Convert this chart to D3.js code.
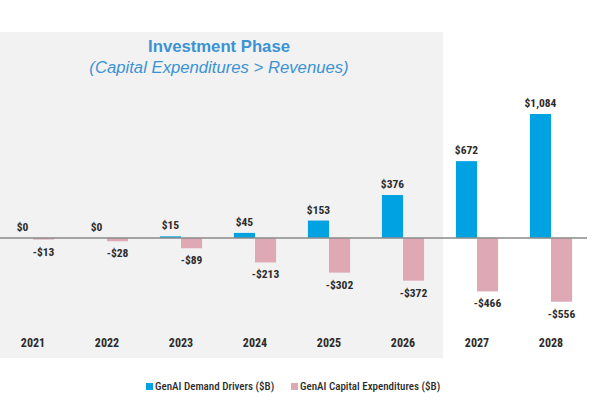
<!DOCTYPE html>
<html>
<head>
<meta charset="utf-8">
<script src="https://cdn.jsdelivr.net/npm/d3@7"></script>
<style>
  body { margin: 0; background: #fff; }
  text { font-family: "Liberation Sans Narrow", "Roboto Condensed", "DejaVu Sans Condensed", sans-serif; }
</style>
</head>
<body>
<div id="chart"></div>
<script>
const width = 600;
const height = 408;

// Data
const years = ["2021", "2022", "2023", "2024", "2025", "2026", "2027", "2028"];
const demand = [0, 0, 15, 45, 153, 376, 672, 1084];
const capex = [-13, -28, -89, -213, -302, -372, -466, -556];
const seriesNames = ["GenAI Demand Drivers ($B)", "GenAI Capital Expenditures ($B)"];
const investmentYears = ["2021", "2022", "2023", "2024", "2025", "2026"];

const blue = "#00a2e1";
const pink = "#dea9b5";
const labelColor = "#2b2b2b";

const svg = d3.select("#chart")
    .append("svg")
    .attr("width", width)
    .attr("height", height);

// Scales
const x = d3.scaleBand()
    .domain(years)
    .range([-4, 588])
    .paddingInner(0.43)
    .paddingOuter(0.215);

const xSub = d3.scaleBand()
    .domain(["demand", "capex"])
    .range([0, x.bandwidth()]);

const y = d3.scaleLinear()
    .domain([-556, 1084])
    .range([301.7, 114]);

const fmt = v => (v < 0 ? "-$" : "$") + d3.format(",")(Math.abs(v));

// Investment phase background
const lastInv = investmentYears[investmentYears.length - 1];
const bgRight = x(lastInv) + x.bandwidth() + x.step() * x.paddingInner() / 2 + 3;
svg.append("rect")
    .attr("x", 0)
    .attr("y", 32)
    .attr("width", bgRight)
    .attr("height", 326)
    .attr("fill", "#f2f2f2");

svg.append("text")
    .attr("x", 219)
    .attr("y", 52)
    .attr("text-anchor", "middle")
    .style("font-family", "'Liberation Sans', Arial, sans-serif")
    .style("font-size", "16.7px")
    .style("font-weight", "bold")
    .attr("fill", "#3b93d4")
    .text("Investment Phase");

svg.append("text")
    .attr("x", 219)
    .attr("y", 73)
    .attr("text-anchor", "middle")
    .style("font-family", "'Liberation Sans', Arial, sans-serif")
    .style("font-size", "16.7px")
    .style("font-style", "italic")
    .attr("fill", "#3b93d4")
    .text("(Capital Expenditures > Revenues)");

const groups = svg.selectAll(".year")
    .data(years.map((yr, i) => ({ yr, d: demand[i], c: capex[i] })))
    .enter()
    .append("g")
    .attr("transform", d => `translate(${x(d.yr)},0)`);

// Demand bars
groups.append("rect")
    .attr("x", xSub("demand"))
    .attr("width", xSub.bandwidth())
    .attr("y", d => y(d.d))
    .attr("height", d => y(0) - y(d.d))
    .attr("fill", blue);

// Capex bars
groups.append("rect")
    .attr("x", xSub("capex"))
    .attr("width", xSub.bandwidth())
    .attr("y", y(0))
    .attr("height", d => y(d.c) - y(0))
    .attr("fill", pink);

// Zero line
svg.append("line")
    .attr("x1", 0)
    .attr("x2", 587)
    .attr("y1", y(0))
    .attr("y2", y(0))
    .attr("stroke", "#8a8a8a")
    .attr("stroke-width", 1.5);

// Value labels
groups.append("text")
    .attr("x", xSub("demand") + xSub.bandwidth() / 2)
    .attr("y", d => y(d.d) - 7)
    .attr("text-anchor", "middle")
    .style("font-size", "11.5px")
    .style("font-weight", "bold")
    .attr("fill", labelColor)
    .text(d => fmt(d.d));

groups.append("text")
    .attr("x", xSub("capex") + xSub.bandwidth() / 2)
    .attr("y", d => y(d.c) + 16)
    .attr("text-anchor", "middle")
    .style("font-size", "11.5px")
    .style("font-weight", "bold")
    .attr("fill", labelColor)
    .text(d => fmt(d.c));

// Year labels
groups.append("text")
    .attr("x", x.bandwidth() / 2)
    .attr("y", 347)
    .attr("text-anchor", "middle")
    .style("font-size", "12px")
    .style("font-weight", "bold")
    .attr("fill", labelColor)
    .text(d => d.yr);

// Legend
const legend = svg.append("g");
const legendX = [146, 291];
[blue, pink].forEach((col, i) => {
    legend.append("rect")
        .attr("x", legendX[i])
        .attr("y", 383)
        .attr("width", 7)
        .attr("height", 7)
        .attr("fill", col);
    legend.append("text")
        .attr("x", legendX[i] + 9)
        .attr("y", 390)
        .style("font-size", "11px")
        .style("font-weight", "500")
        .attr("fill", labelColor)
        .text(seriesNames[i]);
});
</script>
</body>
</html>
